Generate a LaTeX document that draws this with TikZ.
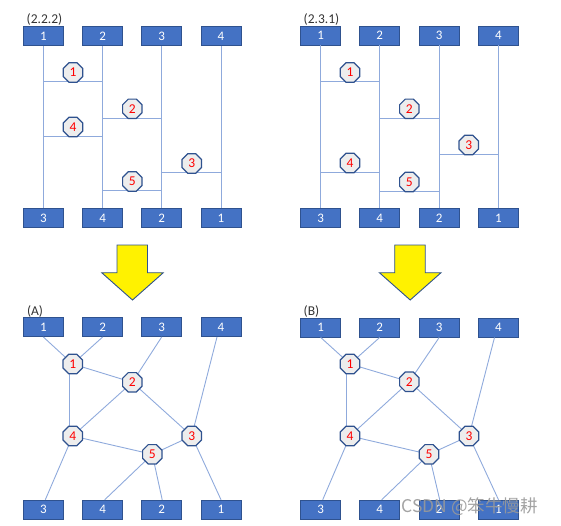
\documentclass[tikz,border=0pt]{standalone}
\usepackage{fontspec}
\setmainfont{Carlito}
\newfontfamily\cjkfont{Noto Sans CJK SC}
\usetikzlibrary{shapes.geometric}
\definecolor{boxblue}{HTML}{4472C4}
\definecolor{boxedge}{HTML}{2F528F}
\definecolor{linkblue}{HTML}{8FAADC}
\definecolor{octfill}{HTML}{EDEDED}
\tikzset{
  port/.style={draw=boxedge, line width=0.9pt, fill=boxblue, minimum width=40pt, minimum height=19pt, inner sep=0pt, text=white, font=\fontsize{13}{15}\selectfont},
  oct/.style={regular polygon, regular polygon sides=8, draw=boxedge, line width=1.2pt, fill=octfill, minimum size=21pt, inner sep=0pt, text=red, font=\fontsize{13.5}{15}\selectfont},
  link/.style={draw=linkblue, line width=0.9pt},
  tag/.style={text=black!80, font=\fontsize{13.5}{15}\selectfont, inner sep=0pt},
  bigarrow/.style={fill=yellow, draw=boxedge, line width=0.9pt, line join=miter}
}
\begin{document}
\begin{tikzpicture}[x=1pt,y=-1pt]
\useasboundingbox (0,0) rectangle (561,525);
% ================= top-left (2.2.2)
\node[tag] (lab1) at (44.5,19.5) {(2.2.2)};
\foreach \i/\x/\t in {1/43.3/1,2/102.7/2,3/161.7/3,4/221/4}{\node[port] (ta\i) at (\x,36) {\t};}
\foreach \i/\x/\t in {1/43.3/3,2/102.7/4,3/161.7/2,4/221/1}{\node[port] (ba\i) at (\x,218) {\t};}
\foreach \i in {1,2,3,4}{\draw[link] (ta\i.south) -- (ba\i.north);}
\coordinate (a1l) at (43.3,81.7); \coordinate (a1r) at (102.7,81.7);
\coordinate (a2l) at (102.7,118); \coordinate (a2r) at (161.7,118);
\coordinate (a4l) at (43.3,136); \coordinate (a4r) at (102.7,136);
\coordinate (a3l) at (161.7,172.7); \coordinate (a3r) at (221,172.7);
\coordinate (a5l) at (102.7,190.3); \coordinate (a5r) at (161.7,190.3);
\foreach \k in {1,2,3,4,5}{\draw[link] (a\k l) -- (a\k r);}
\node[oct] (qa1) at (73,72.5) {1};
\node[oct] (qa2) at (132.3,108.8) {2};
\node[oct] (qa4) at (73,127) {4};
\node[oct] (qa3) at (191.7,163.5) {3};
\node[oct] (qa5) at (132.3,181.5) {5};
% ================= top-right (2.3.1)
\node[tag] (lab2) at (321.5,19.5) {(2.3.1)};
\foreach \i/\x/\t in {1/320.7/1,2/379.7/2,3/439.2/3,4/498.5/4}{\node[port] (tb\i) at (\x,35.5) {\t};}
\foreach \i/\x/\t in {1/320.7/3,2/379.7/4,3/439.2/2,4/498.5/1}{\node[port] (bb\i) at (\x,218) {\t};}
\foreach \i in {1,2,3,4}{\draw[link] (tb\i.south) -- (bb\i.north);}
\coordinate (b1l) at (320.7,81.7); \coordinate (b1r) at (379.7,81.7);
\coordinate (b2l) at (379.7,118); \coordinate (b2r) at (439.2,118);
\coordinate (b3l) at (439.2,154.3); \coordinate (b3r) at (498.5,154.3);
\coordinate (b4l) at (320.7,172.3); \coordinate (b4r) at (379.7,172.3);
\coordinate (b5l) at (379.7,191); \coordinate (b5r) at (439.2,191);
\foreach \k in {1,2,3,4,5}{\draw[link] (b\k l) -- (b\k r);}
\node[oct] (qb1) at (350,72.5) {1};
\node[oct] (qb2) at (409.3,108.8) {2};
\node[oct] (qb3) at (468.7,145) {3};
\node[oct] (qb4) at (350,163) {4};
\node[oct] (qb5) at (409.3,182) {5};
% ================= arrows
\draw[bigarrow] (117,245) -- (147.5,245) -- (147.5,272.7) -- (163.3,272.7) -- (132.5,300) -- (101.7,272.7) -- (117,272.7) -- cycle;
\draw[bigarrow] (394.7,245) -- (425.2,245) -- (425.2,272.7) -- (441,272.7) -- (410.2,300) -- (379.4,272.7) -- (394.7,272.7) -- cycle;
% ================= bottom-left (A)
\node[tag] (lab3) at (35,311) {(A)};
\foreach \i/\x/\t in {1/43.3/1,2/102.7/2,3/161.7/3,4/221/4}{\node[port] (tc\i) at (\x,327) {\t};}
\foreach \i/\x/\t in {1/43.3/3,2/102.7/4,3/161.7/2,4/221/1}{\node[port] (bc\i) at (\x,509.7) {\t};}
\coordinate (qc1) at (72.7,364);
\coordinate (qc2) at (132.3,382.3);
\coordinate (qc4) at (72.7,436);
\coordinate (qc3) at (191.7,436);
\coordinate (qc5) at (152.3,454.3);
\begin{scope}[link]
\draw (tc1.south) -- (qc1);
\draw (tc2.south) -- (qc1);
\draw (tc3.south) -- (qc2);
\draw ([xshift=-4pt]tc4.south) -- (qc3);
\draw (qc1) -- (qc2);
\draw ([xshift=-3.5pt]qc1) -- ([xshift=-3.5pt]qc4);
\draw (qc2) -- (qc4);
\draw (qc2) -- (qc3);
\draw (qc4) -- (qc5);
\draw (qc3) -- (qc5);
\draw (qc4) -- ([xshift=2pt]bc1.north);
\draw (qc5) -- ([xshift=2pt]bc2.north);
\draw (qc5) -- ([xshift=0.5pt]bc3.north);
\draw (qc3) -- (bc4.north);
\end{scope}
\node[oct] (oc1) at (qc1) {1};
\node[oct] (oc2) at (qc2) {2};
\node[oct] (oc3) at (qc3) {3};
\node[oct] (oc4) at (qc4) {4};
\node[oct] (oc5) at (qc5) {5};
% ================= bottom-right (B)
\node[tag] (lab4) at (311.5,311) {(B)};
\foreach \i/\x/\t in {1/320.7/1,2/379.7/2,3/439.2/3,4/498.5/4}{\node[port] (td\i) at (\x,327.5) {\t};}
\foreach \i/\x/\t in {1/320.7/3,2/379.7/4,3/439.2/2,4/498.5/1}{\node[port] (bd\i) at (\x,509.7) {\t};}
\coordinate (qd1) at (350,364);
\coordinate (qd2) at (409.3,381.7);
\coordinate (qd4) at (350,436);
\coordinate (qd3) at (469,436);
\coordinate (qd5) at (429,454.3);
\begin{scope}[link]
\draw (td1.south) -- (qd1);
\draw (td2.south) -- (qd1);
\draw (td3.south) -- (qd2);
\draw ([xshift=-4pt]td4.south) -- (qd3);
\draw (qd1) -- (qd2);
\draw ([xshift=-3.5pt]qd1) -- ([xshift=-3.5pt]qd4);
\draw (qd2) -- (qd4);
\draw (qd2) -- (qd3);
\draw (qd4) -- (qd5);
\draw (qd3) -- (qd5);
\draw (qd4) -- ([xshift=2pt]bd1.north);
\draw (qd5) -- ([xshift=2pt]bd2.north);
\draw (qd5) -- ([xshift=0.5pt]bd3.north);
\draw (qd3) -- (bd4.north);
\end{scope}
\node[oct] (od1) at (qd1) {1};
\node[oct] (od2) at (qd2) {2};
\node[oct] (od3) at (qd3) {3};
\node[oct] (od4) at (qd4) {4};
\node[oct] (od5) at (qd5) {5};
% watermark
\node[text=black!40, opacity=0.9, font=\cjkfont\fontsize{17.5}{19}\selectfont, inner sep=0pt, anchor=west] (wm) at (401.5,506.5) {CSDN @笨牛慢耕};
\end{tikzpicture}
\end{document}
